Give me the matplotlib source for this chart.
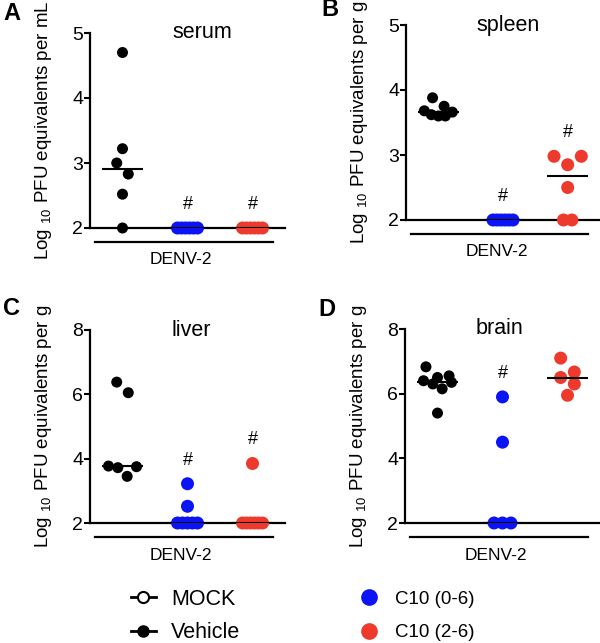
import numpy as np
import matplotlib
matplotlib.use('Agg')
import matplotlib.pyplot as plt
import matplotlib.transforms as mtransforms
from matplotlib.lines import Line2D

plt.rcParams['font.family'] = ['Liberation Sans', 'DejaVu Sans']

# data (log10 PFU equivalents)
groups = ['Vehicle', 'C10 (0-6)', 'C10 (2-6)']
group_colors = ['black', '#0a14f5', '#ee3a2c']

serum_vehicle = [4.7, 3.22, 3.0, 2.83, 2.52, 2.0]
serum_c10_06 = [2.0, 2.0, 2.0, 2.0, 2.0, 2.0]
serum_c10_26 = [2.0, 2.0, 2.0, 2.0, 2.0, 2.0]

spleen_vehicle = [3.88, 3.75, 3.68, 3.66, 3.62, 3.6, 3.6]
spleen_c10_06 = [2.0, 2.0, 2.0, 2.0, 2.0, 2.0]
spleen_c10_26 = [2.98, 2.98, 2.85, 2.5, 2.0, 2.0]

liver_vehicle = [6.38, 6.05, 3.77, 3.75, 3.72, 3.45]
liver_c10_06 = [3.22, 2.52, 2.0, 2.0, 2.0, 2.0, 2.0]
liver_c10_26 = [3.85, 2.0, 2.0, 2.0, 2.0, 2.0, 2.0]

brain_vehicle = [6.83, 6.55, 6.5, 6.4, 6.35, 6.3, 6.15, 5.4]
brain_c10_06 = [5.9, 4.5, 2.0, 2.0, 2.0]
brain_c10_26 = [7.1, 6.67, 6.5, 6.3, 5.95]

# '#' = significant vs vehicle
serum_sig = [False, True, True]
spleen_sig = [False, True, True]
liver_sig = [False, True, True]
brain_sig = [False, True, False]

panels = [
    dict(letter='A', title='serum', unit='mL', data=[serum_vehicle, serum_c10_06, serum_c10_26],
         sig=serum_sig, ylim=(2, 5), yticks=[2, 3, 4, 5], rect=(90, 33, 195, 195), title_x=1.23, letter_xy=(3, 13)),
    dict(letter='B', title='spleen', unit='g', data=[spleen_vehicle, spleen_c10_06, spleen_c10_26],
         sig=spleen_sig, ylim=(2, 5), yticks=[2, 3, 4, 5], rect=(406, 25, 194, 195), title_x=1.08, letter_xy=(321, 10)),
    dict(letter='C', title='liver', unit='g', data=[liver_vehicle, liver_c10_06, liver_c10_26],
         sig=liver_sig, ylim=(2, 8), yticks=[2, 4, 6, 8], rect=(90, 330, 195, 193), title_x=1.06, letter_xy=(3, 308)),
    dict(letter='D', title='brain', unit='g', data=[brain_vehicle, brain_c10_06, brain_c10_26],
         sig=brain_sig, ylim=(2, 8), yticks=[2, 4, 6, 8], rect=(405, 329, 195, 194), title_x=0.95, letter_xy=(318, 310)),
]

W, H, DPI = 600, 643, 100
fig = plt.figure(figsize=(W / DPI, H / DPI), dpi=DPI)


def swarm(values, center, xs, ys, diam):
    # prism-like scatter: points within ~one diameter go in one row;
    # rows of identical values (detection limit) are packed tighter
    vals = sorted(values, reverse=True)
    rows = []
    for v in vals:
        if rows and (rows[-1][0] - v) * ys <= 1.1 * diam:
            rows[-1].append(v)
        else:
            rows.append([v])
    out_x, out_y = [], []
    for r in rows:
        n = len(r)
        if n == 1:
            sp = 0.0
        elif max(r) == min(r):
            sp = min(0.65 * diam, 20 / (n - 1))
        else:
            sp = min(1.05 * diam, 28 / (n - 1))
        offs = (np.arange(n) - (n - 1) / 2) * sp
        offs = sorted(offs, key=lambda o: -abs(o))  # higher values on the outside
        for v, o in zip(r, offs):
            out_x.append(center + o / xs)
            out_y.append(v)
    return np.array(out_x), np.array(out_y)


for p in panels:
    l, t, w, h = p['rect']
    ax = fig.add_axes([l / W, 1 - (t + h) / H, w / W, h / H])
    ax.set_xlim(-0.5, 2.5)
    ax.set_ylim(*p['ylim'])
    xs = w / 3.0
    ys = h / (p['ylim'][1] - p['ylim'][0])

    for i, vals in enumerate(p['data']):
        col = group_colors[i]
        diam = 11 if i == 0 else 13
        x, y = swarm(vals, i, xs, ys, diam)
        ax.scatter(x, y, s=(diam * 72 / DPI) ** 2, color=col, edgecolors='none', zorder=4, clip_on=False)
        ax.plot([i - 0.32, i + 0.32], [np.median(vals)] * 2, color='black', lw=1.5, zorder=5, solid_capstyle='butt')
        if p['sig'][i]:
            ax.annotate('#', (i, max(vals)), xytext=(0, 17), textcoords='offset points',
                        ha='center', va='center', fontsize=13)

    ax.spines['top'].set_visible(False)
    ax.spines['right'].set_visible(False)
    ax.spines['left'].set_linewidth(1.6)
    ax.spines['bottom'].set_linewidth(1.6)
    ax.set_yticks(p['yticks'])
    ax.set_xticks([])
    ax.tick_params(axis='y', direction='out', length=4, width=1.5, labelsize=14, pad=1)
    ax.set_ylabel('Log $_{\\mathregular{10}}$ PFU equivalents per ' + p['unit'], fontsize=13.5, labelpad=13)

    trans = mtransforms.blended_transform_factory(ax.transData, ax.transAxes)
    ax.text(p['title_x'], 1.0, p['title'], transform=trans, ha='center', va='center', fontsize=15.5)
    ax.plot([-0.43, 2.31], [-14 / h] * 2, transform=trans, color='black', lw=1.6, clip_on=False)
    ax.text(0.9, -32 / h, 'DENV-2', transform=trans, ha='center', va='center', fontsize=12.5)

    lx, ly = p['letter_xy']
    fig.text(lx / W, 1 - ly / H, p['letter'], fontsize=17, fontweight='bold', ha='left', va='center')

# legends
h1 = [Line2D([0], [0], color='black', lw=2, marker='o', ms=8, mfc='white', mec='black', mew=1.5),
      Line2D([0], [0], color='black', lw=2, marker='o', ms=8, mfc='black', mec='black')]
fig.legend(h1, ['MOCK', 'Vehicle'], loc='center left', bbox_to_anchor=(131 / W, 1 - 616 / H),
           frameon=False, fontsize=15.5, handlelength=1.15, handletextpad=0.7, labelspacing=0.6,
           borderpad=0, borderaxespad=0)
h2 = [Line2D([0], [0], ls='none', marker='o', ms=11, color=group_colors[1]),
      Line2D([0], [0], ls='none', marker='o', ms=11, color=group_colors[2])]
fig.legend(h2, groups[1:], loc='center left', bbox_to_anchor=(360 / W, 1 - 616 / H),
           frameon=False, fontsize=13.5, handlelength=1.0, handletextpad=0.85, labelspacing=0.85,
           borderpad=0, borderaxespad=0)

fig.savefig('out.png', dpi=DPI)
